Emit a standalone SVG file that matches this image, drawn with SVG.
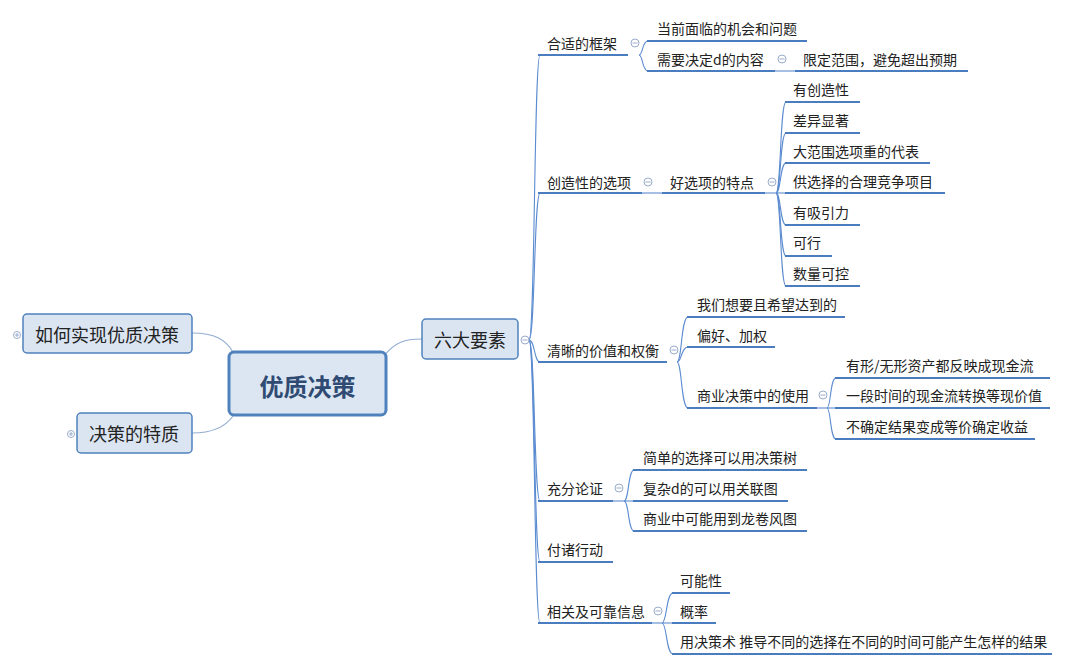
<svg xmlns="http://www.w3.org/2000/svg" width="1080" height="668" viewBox="0 0 1080 668">
<style>
  .t{font-family:"Microsoft YaHei","Noto Sans CJK SC","Noto Sans",sans-serif;font-size:14px;fill:#222;dominant-baseline:central}
  .big{font-family:"Microsoft YaHei","Noto Sans CJK SC","Noto Sans",sans-serif;font-size:18px;fill:#222;text-anchor:middle;dominant-baseline:central}
  .ctr{font-family:"Microsoft YaHei","Noto Sans CJK SC","Noto Sans",sans-serif;font-size:24px;font-weight:bold;fill:#2f4b73;text-anchor:middle;dominant-baseline:central}
  .box{fill:#dbe5f2;stroke:#4f81bd;stroke-width:1.5}
  .ul{stroke:#4a7cc0;stroke-width:2.2;fill:none}
  .c{stroke:#5b8bd0;stroke-width:1.1;fill:none}
  .cl{stroke:#93aed2;stroke-width:1.2;fill:none}
  .tg circle{fill:#fff;stroke:#9aaccb;stroke-width:1}
  .tg line{stroke:#9aaccb;stroke-width:1}
</style>
<rect width="1080" height="668" fill="#fff"/>

<!-- connectors -->
<g id="connectors">
  <path class="cl" d="M192,333 C215,333 226,340 233,352"/>
  <path class="cl" d="M192,433 C215,433 226,426 233,416"/>
  <path class="cl" d="M384,356 C395,342 405,339 422,339"/>
  <!-- trunk -->
  <path class="c" d="M529,340 C535,340 534,55 540,55"/>
  <path class="c" d="M529,340 C535,340 534,193 540,193"/>
  <path class="c" d="M529,340 C535,340 534,362 540,362"/>
  <path class="c" d="M529,340 C535,340 534,501 540,501"/>
  <path class="c" d="M529,340 C535,340 534,562 540,562"/>
  <path class="c" d="M529,340 C535,340 534,623 540,623"/>
  <!-- 合适的框架 -->
  <path class="c" d="M639,55 C643,55 642,41 648,41"/>
  <path class="c" d="M639,55 C643,55 642,71 648,71"/>
  <line class="c" x1="775" y1="71" x2="795" y2="71"/>
  <!-- 创造性的选项 -->
  <line class="c" x1="642" y1="193" x2="662" y2="193"/>
  <path class="c" d="M776,193 C781,193 780,102 786,102"/>
  <path class="c" d="M776,193 C781,193 780,133 786,133"/>
  <path class="c" d="M776,193 C781,193 780,163 786,163"/>
  <path class="c" d="M765,193 L786,193"/>
  <path class="c" d="M776,193 C781,193 780,225 786,225"/>
  <path class="c" d="M776,193 C781,193 780,256 786,256"/>
  <path class="c" d="M776,193 C781,193 780,286 786,286"/>
  <!-- 清晰的价值和权衡 -->
  <path class="c" d="M677,362 C682,362 681,317 688,317"/>
  <path class="c" d="M677,362 C682,362 681,347 688,347"/>
  <path class="c" d="M677,362 C682,362 681,408 688,408"/>
  <path class="c" d="M827,408 C831,408 830,378 836,378"/>
  <path class="c" d="M817,408 L836,408"/>
  <path class="c" d="M827,408 C831,408 830,439 836,439"/>
  <!-- 充分论证 -->
  <path class="c" d="M624,501 C629,501 628,470 634,470"/>
  <path class="c" d="M613,501 L634,501"/>
  <path class="c" d="M624,501 C629,501 628,531 634,531"/>
  <!-- 相关及可靠信息 -->
  <path class="c" d="M662,623 C667,623 666,593 673,593"/>
  <path class="c" d="M652,623 L673,623"/>
  <path class="c" d="M662,623 C667,623 666,654 673,654"/>
</g>

<!-- central -->
<g id="n-center">
  <rect x="229" y="352" width="157" height="63" rx="5" fill="#dce6f2" stroke="#4f81bd" stroke-width="3"/>
  <text class="ctr" x="307.500" y="385">优质决策</text>
</g>
<g id="n-how">
  <rect class="box" x="23" y="314" width="169" height="39" rx="4"/>
  <text class="big" x="107" y="334">如何实现优质决策</text>
  <g class="tg"><circle cx="17" cy="335" r="3.5"/><line x1="15" y1="335" x2="19" y2="335"/><line x1="17" y1="333" x2="17" y2="337"/></g>
</g>
<g id="n-trait">
  <rect class="box" x="77" y="413" width="115" height="40" rx="4"/>
  <text class="big" x="134" y="433">决策的特质</text>
  <g class="tg"><circle cx="71" cy="434" r="3.5"/><line x1="69" y1="434" x2="73" y2="434"/><line x1="71" y1="432" x2="71" y2="436"/></g>
</g>
<g id="n-six">
  <rect class="box" x="422" y="319" width="96" height="40" rx="4"/>
  <text class="big" x="470" y="339">六大要素</text>
  <g class="tg"><circle cx="525" cy="340" r="4"/><line x1="522.500" y1="340" x2="527.500" y2="340"/></g>
</g>

<!-- level 2 -->
<g id="n-frame">
  <text class="t" x="547" y="43">合适的框架</text>
  <line class="ul" x1="538" y1="55" x2="628" y2="55"/>
  <g class="tg"><circle cx="635" cy="43" r="4"/><line x1="632.500" y1="43" x2="637.500" y2="43"/></g>
</g>
<g id="n-frame-1"><text class="t" x="657" y="28">当前面临的机会和问题</text><line class="ul" x1="647" y1="41" x2="807" y2="41"/></g>
<g id="n-frame-2">
  <text class="t" x="657" y="59">需要决定d的内容</text><line class="ul" x1="647" y1="71" x2="775" y2="71"/>
  <g class="tg"><circle cx="782" cy="59" r="4"/><line x1="779.500" y1="59" x2="784.500" y2="59"/></g>
</g>
<g id="n-frame-2-1"><text class="t" x="803" y="59">限定范围，避免超出预期</text><line class="ul" x1="795" y1="71" x2="968" y2="71"/></g>

<g id="n-options">
  <text class="t" x="547" y="182">创造性的选项</text>
  <line class="ul" x1="538" y1="193" x2="642" y2="193"/>
  <g class="tg"><circle cx="648" cy="182" r="4"/><line x1="645.500" y1="182" x2="650.500" y2="182"/></g>
</g>
<g id="n-good">
  <text class="t" x="670" y="182">好选项的特点</text>
  <line class="ul" x1="662" y1="193" x2="765" y2="193"/>
  <g class="tg"><circle cx="772" cy="182" r="4"/><line x1="769.500" y1="182" x2="774.500" y2="182"/></g>
</g>
<g id="n-good-1"><text class="t" x="793" y="89">有创造性</text><line class="ul" x1="785" y1="102" x2="860" y2="102"/></g>
<g id="n-good-2"><text class="t" x="793" y="120">差异显著</text><line class="ul" x1="785" y1="133" x2="860" y2="133"/></g>
<g id="n-good-3"><text class="t" x="793" y="151">大范围选项重的代表</text><line class="ul" x1="785" y1="163" x2="930" y2="163"/></g>
<g id="n-good-4"><text class="t" x="793" y="181">供选择的合理竞争项目</text><line class="ul" x1="785" y1="193" x2="945" y2="193"/></g>
<g id="n-good-5"><text class="t" x="793" y="212">有吸引力</text><line class="ul" x1="785" y1="225" x2="860" y2="225"/></g>
<g id="n-good-6"><text class="t" x="793" y="242">可行</text><line class="ul" x1="785" y1="256" x2="832" y2="256"/></g>
<g id="n-good-7"><text class="t" x="793" y="273">数量可控</text><line class="ul" x1="785" y1="286" x2="860" y2="286"/></g>

<g id="n-values">
  <text class="t" x="547" y="350">清晰的价值和权衡</text>
  <line class="ul" x1="538" y1="362" x2="667" y2="362"/>
  <g class="tg"><circle cx="674" cy="350" r="4"/><line x1="671.500" y1="350" x2="676.500" y2="350"/></g>
</g>
<g id="n-values-1"><text class="t" x="697" y="304">我们想要且希望达到的</text><line class="ul" x1="687" y1="317" x2="845" y2="317"/></g>
<g id="n-values-2"><text class="t" x="697" y="335">偏好、加权</text><line class="ul" x1="687" y1="347" x2="775" y2="347"/></g>
<g id="n-values-3">
  <text class="t" x="697" y="395">商业决策中的使用</text><line class="ul" x1="687" y1="408" x2="817" y2="408"/>
  <g class="tg"><circle cx="823" cy="395" r="4"/><line x1="820.500" y1="395" x2="825.500" y2="395"/></g>
</g>
<g id="n-values-3-1"><text class="t" x="846" y="365">有形/无形资产都反映成现金流</text><line class="ul" x1="835" y1="378" x2="1050" y2="378"/></g>
<g id="n-values-3-2"><text class="t" x="846" y="395">一段时间的现金流转换等现价值</text><line class="ul" x1="835" y1="408" x2="1050" y2="408"/></g>
<g id="n-values-3-3"><text class="t" x="846" y="426">不确定结果变成等价确定收益</text><line class="ul" x1="835" y1="439" x2="1035" y2="439"/></g>

<g id="n-reason">
  <text class="t" x="547" y="488">充分论证</text>
  <line class="ul" x1="538" y1="501" x2="613" y2="501"/>
  <g class="tg"><circle cx="619" cy="488" r="4"/><line x1="616.500" y1="488" x2="621.500" y2="488"/></g>
</g>
<g id="n-reason-1"><text class="t" x="643" y="457">简单的选择可以用决策树</text><line class="ul" x1="633" y1="470" x2="807" y2="470"/></g>
<g id="n-reason-2"><text class="t" x="643" y="488">复杂d的可以用关联图</text><line class="ul" x1="633" y1="501" x2="788" y2="501"/></g>
<g id="n-reason-3"><text class="t" x="643" y="518">商业中可能用到龙卷风图</text><line class="ul" x1="633" y1="531" x2="807" y2="531"/></g>

<g id="n-action"><text class="t" x="547" y="549">付诸行动</text><line class="ul" x1="538" y1="562" x2="613" y2="562"/></g>

<g id="n-info">
  <text class="t" x="547" y="611">相关及可靠信息</text>
  <line class="ul" x1="538" y1="623" x2="652" y2="623"/>
  <g class="tg"><circle cx="658" cy="611" r="4"/><line x1="655.500" y1="611" x2="660.500" y2="611"/></g>
</g>
<g id="n-info-1"><text class="t" x="680" y="580">可能性</text><line class="ul" x1="672" y1="593" x2="730" y2="593"/></g>
<g id="n-info-2"><text class="t" x="680" y="611">概率</text><line class="ul" x1="672" y1="623" x2="716" y2="623"/></g>
<g id="n-info-3"><text class="t" x="680" y="641">用决策术 推导不同的选择在不同的时间可能产生怎样的结果</text><line class="ul" x1="672" y1="654" x2="1052" y2="654"/></g>
</svg>
